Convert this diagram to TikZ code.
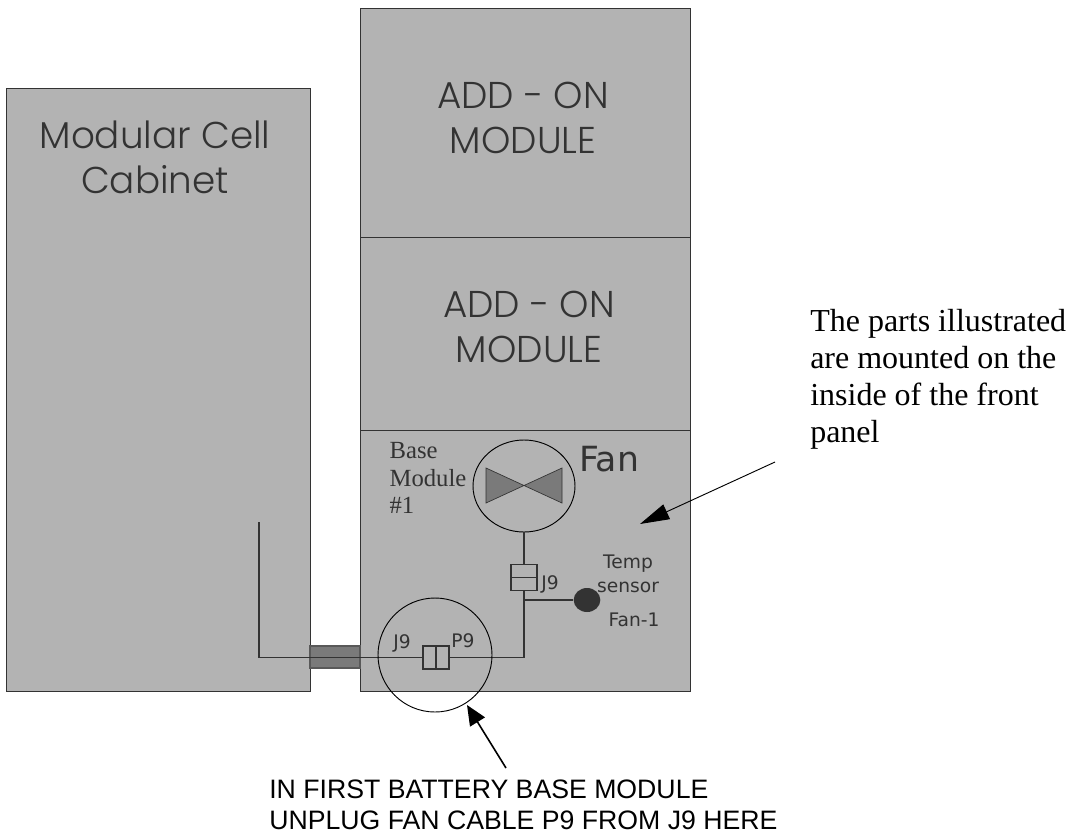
\documentclass[tikz,border=0pt]{standalone}
\usepackage{fontspec}
\setmainfont{Liberation Serif}
\newfontfamily\panelfont{Poppins Light}
\newfontfamily\notefont{Liberation Sans}
\newfontfamily\handfont{DejaVu Sans}
\usetikzlibrary{shapes.geometric,arrows.meta}
\definecolor{panelgray}{HTML}{B3B3B3}
\definecolor{darkgray}{HTML}{7A7A7A}
\definecolor{inkgray}{HTML}{333333}
\begin{document}
\begin{tikzpicture}[
		x=0.75pt,y=-0.75pt,
		panel/.style={draw=inkgray,line width=0.7pt,fill=panelgray,inner sep=0pt,minimum width=247.5pt},
		paneltext/.style={font=\panelfont\fontsize{28}{33.75}\selectfont,align=center,text=inkgray,inner sep=0pt},
		handtext/.style={font=\handfont\fontsize{14}{18}\selectfont,align=center,text=inkgray,inner sep=0pt},
		coupler/.style={draw=inkgray,line width=0.9pt,fill=panelgray,inner sep=0pt},
		cable/.style={draw=inkgray,line width=1.3pt},
		pointer/.style={draw=black,line width=0.7pt,-{Triangle[length=22pt,width=12pt]}},
		pointerbold/.style={draw=black,line width=1.2pt,-{Triangle[length=15pt,width=13pt]}}
	]
	\useasboundingbox (0,0) rectangle (1070,836);
	% cabinets
	\node[panel,minimum width=228pt,minimum height=452.25pt] (cabinet) at (158,389.5) {};
	\node[panel,minimum height=171.75pt] (addontop) at (525,122.5) {};
	\node[panel,minimum height=144.75pt] (addonlow) at (525,333.5) {};
	\node[panel,minimum height=195.75pt] (basemod) at (525,560.5) {};
	\node[draw=black!65,line width=0.8pt,fill=darkgray,inner sep=0pt,minimum width=37.5pt,minimum height=16.5pt] (bridge) at (335,657) {};
	\node[paneltext] (cabinettext) at (155,157) {Modular Cell\\Cabinet};
	\node[paneltext] (addontoptext) at (523,118) {ADD - ON\\MODULE};
	\node[paneltext] (addonlowtext) at (529,327) {ADD - ON\\MODULE};
	% fan
	\node[ellipse,draw=black,line width=0.7pt,inner sep=0pt,minimum width=76.5pt,minimum height=69pt] (fan) at (524,486) {};
	\fill[darkgray,draw=inkgray,line width=0.5pt] (486,468) -- (562,503) -- (562,468) -- (486,503) -- cycle;
	\node[align=left,font=\fontsize{18.5}{20.5}\selectfont,text=inkgray,inner sep=0pt] (basetext) at (428,478) {Base\\Module\\\#1};
	\node[font=\handfont\fontsize{26}{30}\selectfont,text=inkgray,inner sep=0pt,anchor=base] (fantext) at (609,471) {Fan};
	% cable parts
	\node[coupler,minimum width=19.5pt,minimum height=9.5pt] (fanup) at (524,571) {};
	\node[coupler,minimum width=19.5pt,minimum height=9.5pt] (fanlow) at (524,584) {};
	\node[coupler,minimum width=9.75pt,minimum height=17.25pt] (plugleft) at (429.5,657.5) {};
	\node[coupler,minimum width=9.75pt,minimum height=17.25pt] (plugright) at (442.5,657.5) {};
	\node[ellipse,fill=inkgray,inner sep=0pt,minimum width=20pt,minimum height=18pt] (sensor) at (587,600) {};
	\coordinate (cableend) at (259,522);
	\coordinate (junction) at (524,657.5);
	\coordinate (tee) at (524,600);
	\draw[cable] (cableend) |- (plugleft.west);
	\draw[cable] (plugright.east) -- (junction) -- (fanlow.south);
	\draw[cable] (fanup.north) -- (fan.south);
	\draw[cable] (tee) -- (sensor.west);
	\node[circle,draw=black,line width=0.7pt,inner sep=0pt,minimum size=85.5pt] (ringcircle) at (435,655) {};
	\node[handtext,anchor=base west] (upperj) at (541,589) {J9};
	\node[handtext] (tempsensor) at (628,574) {Temp\\sensor};
	\node[handtext,anchor=base] (fanone) at (634,626) {Fan-1};
	\node[handtext,anchor=base] (lowerj) at (402,648) {J9};
	\node[handtext,anchor=base] (lowerp) at (463,647) {P9};
	% notes
	\node[align=left,font=\fontsize{24}{27.75}\selectfont,inner sep=0pt,anchor=west] (partsnote) at (810,379) {The parts illustrated\\are mounted on the\\inside of the front\\panel};
	\node[align=left,font=\notefont\fontsize{20}{23}\selectfont,inner sep=0pt,anchor=west,text=black] (unplugnote) at (269,805) {IN FIRST BATTERY BASE MODULE\\UNPLUG FAN CABLE P9 FROM J9 HERE};
	\coordinate (partstail) at (775,462);
	\coordinate (partstip) at (640,524);
	\coordinate (unplugtail) at (506,768);
	\coordinate (unplugtip) at (467,705);
	\draw[pointer] (partstail) -- (partstip);
	\draw[pointerbold] (unplugtail) -- (unplugtip);
\end{tikzpicture}
\end{document}
